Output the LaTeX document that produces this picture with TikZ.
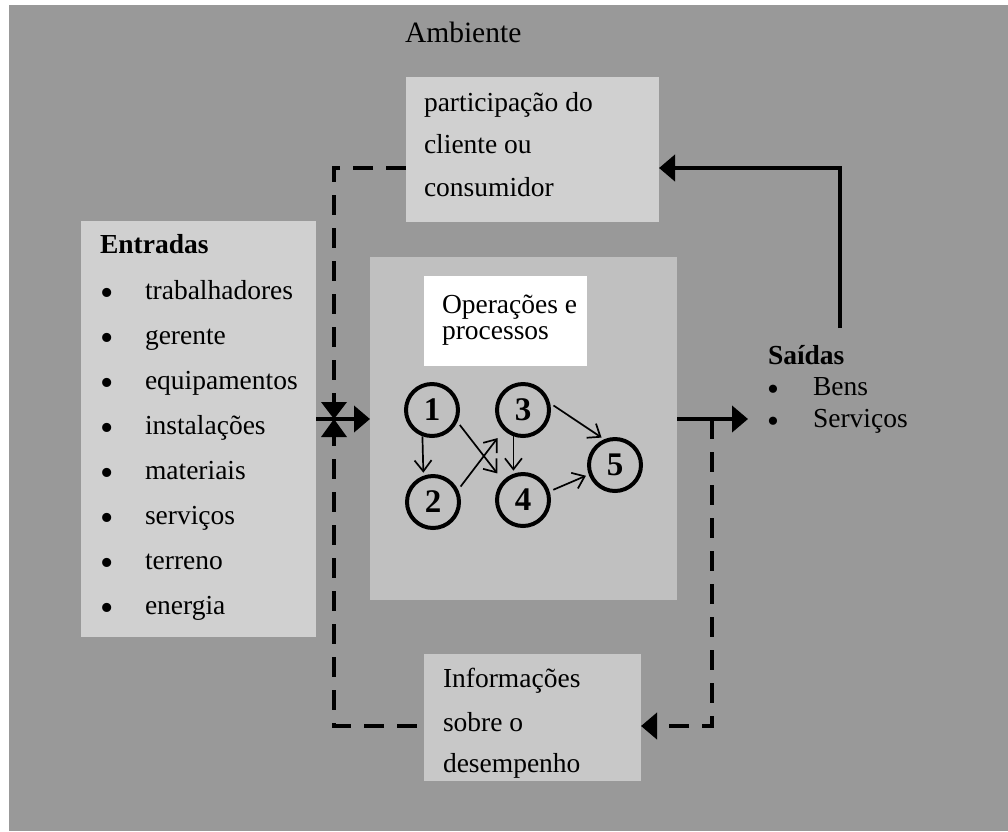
\documentclass[tikz,border=0pt]{standalone}
\usepackage{fontspec}
\setmainfont{Liberation Serif}
\usetikzlibrary{arrows.meta,calc}
\definecolor{bggray}{RGB}{153,153,153}
\definecolor{boxA}{RGB}{208,208,208}
\definecolor{boxB}{RGB}{192,192,192}
\definecolor{boxC}{RGB}{200,200,200}
\tikzset{
  txt/.style={inner sep=0pt, outer sep=0pt, font=\fontsize{27.5}{33}\selectfont, anchor=base west},
  blt/.style={inner sep=0pt, outer sep=0pt, font=\fontsize{38}{40}\selectfont, anchor=base},
  panel/.style={draw=none, inner sep=0pt, outer sep=0pt},
  bigtip/.style={-{Triangle[length=16pt,width=26pt]}},
  thick line/.style={line width=4.5pt},
  dashline/.style={line width=4.5pt, dash pattern=on 20pt off 13pt},
  stage/.style={circle, draw, line width=4pt, minimum size=52pt, inner sep=0pt,
     font=\bfseries\fontsize{33}{33}\selectfont},
  small arrow/.style={line width=1.7pt, -{Straight Barb[length=11pt,width=17pt,line width=1.7pt]}}
}
\begin{document}
\begin{tikzpicture}[x=1pt,y=-1pt]
\useasboundingbox (0,0) rectangle (1008,831);
\fill[white] (0,0) rectangle (1008,831);
\fill[bggray] (9,5) rectangle (1008,831);

% Ambiente
\node[txt, font=\fontsize{29.5}{33}\selectfont] (amb) at (405,42) {Ambiente};

% boxes
\fill[boxA] (406,77) rectangle (659,222);
\node[panel, minimum width=253pt, minimum height=145pt] (part) at (532.5,149.5) {};
\node[txt] (p1) at (424,111) {participação do};
\node[txt] (p2) at (424,153.5) {cliente ou};
\node[txt] (p3) at (424,196) {consumidor};

\fill[boxA] (81,221) rectangle (316,637);
\node[panel, minimum width=235pt, minimum height=416pt] (ent) at (198.5,429) {};
\node[txt] (e0) at (100,253) {\textbf{Entradas}};
\foreach \t [count=\i from 0] in {trabalhadores,gerente,equipamentos,instalações,materiais,serviços,terreno,energia}{
  \node[blt] (b\i) at (107,299+6+45.1*\i) {•};
  \node[txt] (e\i t) at (145,299+45.1*\i) {\t};
}

\fill[boxB] (370,257) rectangle (677,600);
\node[panel, minimum width=307pt, minimum height=343pt] (ops) at (523.5,428.5) {};
\fill[white] (424,276) rectangle (587,366);
\node[panel, minimum width=163pt, minimum height=90pt] (opt) at (505.5,321) {};
\node[txt] (o1) at (442,313) {Operações e};
\node[txt] (o2) at (442,339) {processos};

\fill[boxC] (424,654) rectangle (641,781);
\node[panel, minimum width=217pt, minimum height=127pt] (info) at (532.5,717.5) {};
\node[txt] (i1) at (443,687) {Informações};
\node[txt] (i2) at (443,731) {sobre o};
\node[txt] (i3) at (443,772) {desempenho};

% Saidas
\node[txt] (s0) at (768,364) {\textbf{Saídas}};
\node[blt, font=\fontsize{34}{36}\selectfont] (sb1) at (773,395.5+5) {•};
\node[txt] (s1) at (813,395.5) {Bens};
\node[blt, font=\fontsize{34}{36}\selectfont] (sb2) at (773,427+5) {•};
\node[txt] (s2) at (813,427) {Serviços};

% process graph
\node[stage] (c1) at (432,410) {1};
\node[stage] (c2) at (433,502) {2};
\node[stage] (c3) at (523,410) {3};
\node[stage] (c4) at (523,500) {4};
\node[stage] (c5) at (615,465) {5};
\draw[small arrow, shorten >=3pt] (c1.-110) -- (c2.110);
\draw[small arrow, shorten <=4pt, shorten >=9pt] (c1.-25) -- (c4.136);
\draw[small arrow, shorten <=4pt, shorten >=10pt] (c2.26) -- (c3.-134);
\draw[small arrow, shorten >=3pt] (c3.-110) -- (c4.110);
\draw[small arrow, shorten <=4pt, shorten >=3pt] (c3.14) -- (c5.113);
\draw[small arrow, shorten <=4pt, shorten >=3pt] (c4.18) -- (c5.200);

% coordinates
\coordinate (valve) at (334,419);
\coordinate (fbY) at (334,168);
\coordinate (infY) at (334,726);
\coordinate (outTip) at (748,419);
\coordinate (drop) at (712,419);
\coordinate (fbStart) at (840,328);

% dashed loops
\draw[dashline] (fbY -| part.west) -- (fbY) -- (infY) -- (infY -| info.west);
\draw[dashline, bigtip] (drop) -- (drop |- infY) -- (infY -| info.east);

% input arrow and valve
\draw[thick line, bigtip] (valve -| ent.east) -- (valve -| ops.west);
\fill (321,402) -- (347,402) -- (valve) -- cycle;
\fill (321,437) -- (347,437) -- (valve) -- cycle;

% output arrow
\draw[thick line, bigtip] (valve -| ops.east) -- (outTip);
% feedback
\draw[thick line, bigtip] (fbStart) -- (fbStart |- fbY) -- (fbY -| part.east);
\end{tikzpicture}
\end{document}
